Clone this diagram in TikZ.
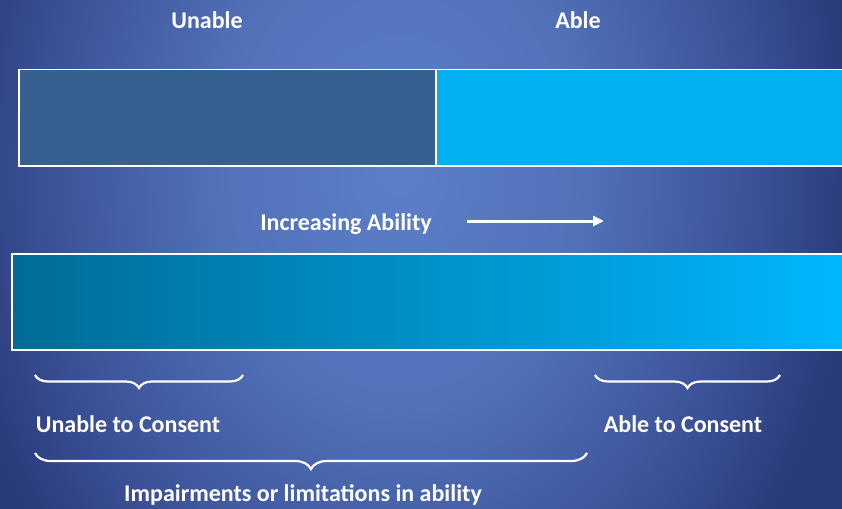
\documentclass[tikz,border=0pt]{standalone}
\usepackage{fontspec}
\setmainfont{Carlito}
\usetikzlibrary{decorations.pathreplacing,arrows.meta}
\definecolor{bgc}{HTML}{5C7FC8}
\definecolor{bgm}{HTML}{5272BA}
\definecolor{bgd}{HTML}{3A5096}
\definecolor{bge}{HTML}{293A79}
\definecolor{darkbar}{HTML}{36608F}
\definecolor{lightbar}{HTML}{00B0F0}
\definecolor{gradl}{HTML}{006C96}
\definecolor{gradr}{HTML}{00B8FF}
\pgfdeclareradialshading{bgshade}{\pgfpoint{0bp}{0bp}}{color(0bp)=(bgc); color(4.5bp)=(bgm); color(9bp)=(bgd); color(11.5bp)=(bge); color(50bp)=(bge)}
\tikzset{
  lbl/.style={text=white, font=\bfseries\fontsize{24}{28}\selectfont, inner sep=0pt},
  barbox/.style={draw=white, line width=1.5pt},
  bracestyle/.style={draw=white, line width=2.2pt, decorate, decoration={brace, amplitude=13pt, mirror}},
}
\begin{document}
\begin{tikzpicture}[x=1pt,y=-1pt]
\useasboundingbox (0,0) rectangle (842,508);
\begin{scope}
\clip (0,0) rectangle (842,508);
\shade[shading=bgshade] (400,170) ellipse [x radius=1000, y radius=1300];
\end{scope}
% top bar
\node[barbox, fill=darkbar, minimum width=417pt, minimum height=96pt, anchor=north west, inner sep=0pt] (unablebox) at (18,69) {};
\node[barbox, fill=lightbar, minimum width=430pt, minimum height=96pt, anchor=north west, inner sep=0pt] (ablebox) at (435,69) {};
\node[lbl] (unable) at (207,20) {Unable};
\node[lbl] (able) at (578,20) {Able};
% arrow
\node[lbl] (incr) at (346,224) {Increasing Ability};
\coordinate (arrs) at (467,221);
\coordinate (arre) at (604,221);
\draw[white, line width=3pt, -{Triangle[length=11pt,width=10pt]}] (arrs) -- (arre);
% gradient bar
\node[barbox, left color=gradl, right color=gradr, minimum width=850pt, minimum height=96pt, anchor=north west, inner sep=0pt] (gradbar) at (11,253) {};
% braces
\coordinate (b1s) at (35,375);
\coordinate (b1e) at (243,375);
\coordinate (b2s) at (595,375);
\coordinate (b2e) at (780,375);
\coordinate (b3s) at (35,453);
\coordinate (b3e) at (587,453);
\draw[bracestyle] (b1s) -- (b1e);
\draw[bracestyle] (b2s) -- (b2e);
\draw[bracestyle, decoration={brace, amplitude=16pt, mirror}] (b3s) -- (b3e);
\node[lbl] (unc) at (128,424) {Unable to Consent};
\node[lbl] (abc) at (683,424) {Able to Consent};
\node[lbl] (imp) at (303,495) {Impairments or limitations in ability};
\end{tikzpicture}
\end{document}
